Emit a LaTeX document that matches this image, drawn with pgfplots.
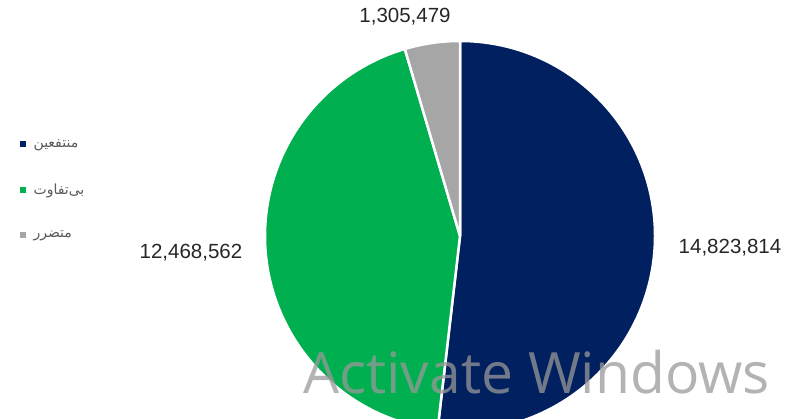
\documentclass[border=0pt]{standalone}
\usepackage{pgfplots}
\pgfplotsset{compat=1.18}
\usepackage{pgfplotstable}
\usepackage{fontspec}
\setmainfont{Liberation Sans}
\newfontfamily\arabicfont[Script=Arabic]{DejaVu Sans}
\newfontfamily\wmfont{Open Sans}
\TeXXeTstate=1
\definecolor{navy}{HTML}{002060}
\definecolor{exgreen}{HTML}{00B050}
\definecolor{exgray}{HTML}{A6A6A6}
\definecolor{labtext}{HTML}{262626}
\definecolor{legtext}{HTML}{595959}
\pgfplotstableread{
idx value
0 14823814
1 12468562
2 1305479
}\piedata
\pgfplotstablegetelem{0}{value}\of\piedata \let\vA\pgfplotsretval
\pgfplotstablegetelem{1}{value}\of\piedata \let\vB\pgfplotsretval
\pgfplotstablegetelem{2}{value}\of\piedata \let\vC\pgfplotsretval
\edef\total{\fpeval{\vA+\vB+\vC}}
\edef\sA{90}
\edef\eA{\fpeval{90-\vA/\total*360}}
\edef\eB{\fpeval{\eA-\vB/\total*360}}
\edef\eC{\fpeval{\eB-\vC/\total*360}}
\def\cx{460}
\def\cy{183}
\def\rr{195}
\begin{document}
\begin{tikzpicture}
\path[use as bounding box] (0,0) rectangle (792pt,419pt);
\clip (0,0) rectangle (792pt,419pt);
\begin{axis}[
  at={(0,0)}, anchor=south west,
  width=792pt, height=419pt, scale only axis,
  xmin=0, xmax=792, ymin=0, ymax=419,
  enlargelimits=false,
  hide axis,
  clip=false,
  legend style={draw=none, fill=none, at={(axis cs:20,282)}, anchor=north west,
    row sep=31pt, font=\fontsize{14}{16}\selectfont, text=legtext,
    inner sep=0pt},
  legend cell align=left,
]
\addlegendimage{legend image code/.code={\fill[navy] (0pt,-2.6pt) rectangle (5.2pt,2.6pt);\path (11pt,0pt);}}
\addlegendentry{\arabicfont\beginR منتفعین\endR}
\addlegendimage{legend image code/.code={\fill[exgreen] (0pt,-2.6pt) rectangle (5.2pt,2.6pt);\path (11pt,0pt);}}
\addlegendentry{\arabicfont\beginR بی‌تفاوت\endR}
\addlegendimage{legend image code/.code={\fill[exgray] (0pt,-2.6pt) rectangle (5.2pt,2.6pt);\path (11pt,0pt);}}
\addlegendentry{\arabicfont\beginR متضرر\endR}

\filldraw[fill=navy, draw=white, line width=2.5pt, line join=round]
  (axis cs:\cx,\cy) -- (axis cs:{\cx+\rr*cos(\sA)},{\cy+\rr*sin(\sA)})
  arc[start angle=\sA, end angle=\eA, radius=195pt] -- cycle;
\filldraw[fill=exgreen, draw=white, line width=2.5pt, line join=round]
  (axis cs:\cx,\cy) -- (axis cs:{\cx+\rr*cos(\eA)},{\cy+\rr*sin(\eA)})
  arc[start angle=\eA, end angle=\eB, radius=195pt] -- cycle;
\filldraw[fill=exgray, draw=white, line width=2.5pt, line join=round]
  (axis cs:\cx,\cy) -- (axis cs:{\cx+\rr*cos(\eB)},{\cy+\rr*sin(\eB)})
  arc[start angle=\eB, end angle=\eC, radius=195pt] -- cycle;

\node[text=labtext, font=\fontsize{20.5}{24}\selectfont] at (axis cs:730,171.5)
  {\pgfmathprintnumber[fixed,precision=0,1000 sep={,},assume math mode=true]{\vA}};
\node[text=labtext, font=\fontsize{20.5}{24}\selectfont] at (axis cs:191,166.5)
  {\pgfmathprintnumber[fixed,precision=0,1000 sep={,},assume math mode=true]{\vB}};
\node[text=labtext, font=\fontsize{20.5}{24}\selectfont] at (axis cs:405,402.5)
  {\pgfmathprintnumber[fixed,precision=0,1000 sep={,},assume math mode=true]{\vC}};

\node[anchor=base west, inner sep=0pt, text=black!40, opacity=0.75,
  font=\wmfont\fontsize{57}{60}\selectfont] at (axis cs:303,25) {Activate Windows};
\end{axis}
\end{tikzpicture}
\end{document}
